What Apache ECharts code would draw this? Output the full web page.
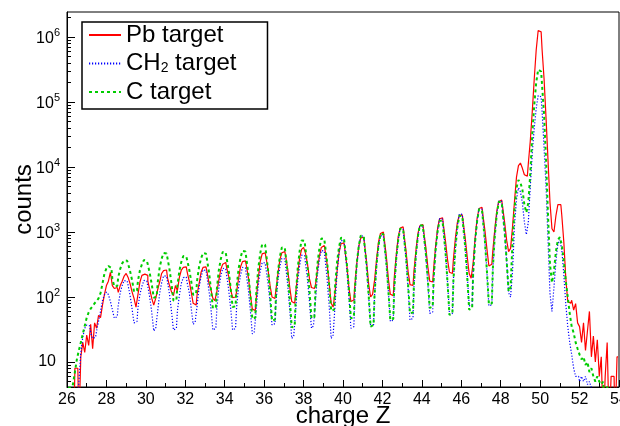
<!DOCTYPE html>
<html><head><meta charset="utf-8">
<script src="https://cdn.jsdelivr.net/npm/echarts/dist/echarts.min.js"></script>
<style>html,body{margin:0;padding:0;background:#fff}#c{width:620px;height:426px}</style>
</head><body><div id="c"></div>
<script>
// Histogram binning (bin lower edge of first bin and width), in charge Z
const binStart = 26;
const binWidth = 0.1;

// Axis tick values
const xRange = [26, 54];
const yRange = [4.12, 2.43e6];
const yMajorTicks = [10, 100, 1000, 10000, 100000, 1000000];
const yMinorTicks = [5,6,7,8,9, 20,30,40,50,60,70,80,90, 200,300,400,500,600,700,800,900,
  2000,3000,4000,5000,6000,7000,8000,9000, 20000,30000,40000,50000,60000,70000,80000,90000,
  200000,300000,400000,500000,600000,700000,800000,900000, 2000000];

const seriesNames = ['Pb target', 'CH2 target', 'C target'];

// Counts per bin (0.1 wide bins from Z=26.0 to 54.0); values of 1 lie below the axis (empty bins)
const pbCounts = [
  1,1,1,1,8,8,1,12,20,14,
  26,18,38,16,40,33,52,48,75,110,
  150,175,240,150,135,140,118,150,175,210,
  230,200,160,120,95,70,110,170,215,225,
  215,175,130,95,75,95,130,170,230,255,
  260,195,150,120,105,150,125,200,260,285,
  290,240,175,120,80,75,110,160,240,285,
  290,245,165,130,95,88,120,180,265,320,
  340,280,210,130,98,100,120,190,290,350,
  360,300,200,110,65,62,95,190,350,460,
  480,400,260,150,100,95,130,230,380,480,
  500,410,260,140,85,80,115,220,400,540,
  580,470,320,190,140,135,150,260,420,580,
  620,500,310,160,80,70,120,250,480,660,
  680,520,300,140,85,90,150,330,600,810,
  830,620,340,160,100,110,180,370,700,950,
  1000,750,420,190,110,105,200,440,850,1150,
  1200,900,500,250,155,150,250,520,950,1250,
  1300,1000,580,300,175,170,280,620,1150,1600,
  1650,1250,720,380,240,230,380,800,1400,1800,
  1830,1400,800,420,230,195,330,800,1600,2300,
  2400,1800,1050,550,300,320,520,1100,2100,2950,
  3100,2400,1400,750,500,560,1200,3000,7000,10500,
  11500,9550,7600,7240,11220,25120,70800,223900,631000,1258900,
  1202000,631000,223900,56200,12590,2820,1122,1000,1778,2630,
  2630,1778,708,200,85,80,89,63,79,40,
  35,20,40,15,30,60,12,25,10,22,
  6,12,1,6,20,1,6,6,1,12
];
const ch2Counts = [
  1,1,1,1,1,1,5,14,24,33,
  37,36,28,23,24,30,42,60,88,108,
  119,109,86,64,47,50,74,117,150,179,
  176,151,105,66,40,42,69,110,146,180,
  175,146,97,58,30,33,60,114,165,212,
  208,170,110,60,31,33,61,106,163,199,
  203,164,118,68,38,41,73,141,205,262,
  256,204,126,67,31,33,66,136,210,277,
  271,215,131,68,31,33,67,139,216,286,
  280,218,128,63,27,29,64,149,248,340,
  333,264,160,83,37,39,83,183,294,394,
  384,282,150,63,23,25,63,169,306,440,
  434,328,184,84,33,36,85,212,370,518,
  508,361,182,71,23,26,78,240,486,740,
  730,517,260,100,33,35,103,300,588,876,
  862,602,296,109,35,37,105,304,590,876,
  864,616,313,122,42,44,130,382,750,1120,
  1103,770,378,138,44,47,140,421,840,1265,
  1250,881,444,168,56,59,179,534,1066,1605,
  1577,1077,509,176,54,56,183,585,1225,1893,
  1870,1297,632,228,73,76,238,734,1500,2280,
  2250,1525,714,242,73,76,262,882,1910,3000,
  2970,2060,1008,363,116,100,251,1259,3162,4786,
  4169,2818,1413,912,1413,5012,15849,39811,79433,125893,
  120226,70795,19953,5012,708,112,60,141,355,661,
  759,525,224,79,35,20,13,8,6,6,
  5,6,5,6,4.5,5,4,1,1,1,
  1,1,1,1,1,1,1,1,1,1
];
const cCounts = [
  4,4,4,4.5,7,11,15,20,27,36,
  48,58,66,72,80,86,95,115,160,230,
  275,300,280,190,145,148,202,271,329,366,
  362,324,250,182,121,125,178,258,318,370,
  360,315,231,156,97,102,167,285,389,476,
  466,391,266,160,88,90,149,254,347,427,
  420,365,265,176,108,112,179,293,393,476,
  465,378,244,134,67,69,132,257,383,494,
  485,394,255,140,70,72,138,268,400,514,
  502,386,226,108,46,48,114,272,467,649,
  635,473,258,113,43,45,104,246,420,580,
  567,415,222,92,34,36,98,270,509,743,
  731,540,292,124,47,49,123,312,558,792,
  779,589,334,151,61,64,149,348,591,815,
  797,583,311,128,47,49,129,336,613,880,
  860,602,296,109,35,37,108,316,625,936,
  920,655,335,129,44,46,134,387,754,1123,
  1103,791,409,160,56,58,164,455,864,1272,
  1246,902,472,189,68,71,197,540,1023,1498,
  1464,1010,486,171,53,56,179,561,1157,1780,
  1748,1206,582,205,64,67,220,696,1447,2240,
  2196,1508,720,250,77,80,271,880,1869,2913,
  2868,2015,998,368,122,141,708,2239,4786,6310,
  5754,4467,2630,1995,2818,7943,31623,89125,199526,316228,
  295121,177828,63096,12589,1778,316,166,251,501,759,
  832,631,355,178,100,56,35,28,20,16,
  13,11,12,9,10,7,8,6,5,6,
  5,4.5,5,1,4.3,1,1,1,1,1
];

const FONT = "'Liberation Sans', Arial, Helvetica, sans-serif";
function toPairs(arr) {
  return arr.map((v, i) => [Math.round((binStart + binWidth * (i + 0.5)) * 1000) / 1000, v]);
}

const chart = echarts.init(document.getElementById('c'), null, {renderer: 'canvas'});
const option = {
  animation: false,
  backgroundColor: '#fff',
  textStyle: {fontFamily: FONT, color: '#000'},
  grid: {left: 67, top: 12, width: 552, height: 375, show: true, borderColor: '#000', borderWidth: 1,
         backgroundColor: 'transparent', containLabel: false, outerBoundsMode: 'none'},
  legend: {
    show: true, orient: 'vertical', left: 82, top: 22,
    padding: [1, 31, 5, 6], itemWidth: 32, itemHeight: 24, itemGap: 4.5,
    borderColor: '#000', borderWidth: 1.5, backgroundColor: '#fff',
    selectedMode: false, data: seriesNames,
    itemStyle: {opacity: 0},
    formatter: function (name) {
      if (name === 'CH2 target') return '{m|CH}{s|2}{m| target}';
      return '{m|' + name + '}';
    },
    textStyle: {
      fontSize: 24, color: '#000', fontFamily: FONT,
      rich: {
        m: {fontSize: 24, lineHeight: 24, verticalAlign: 'middle', fontFamily: FONT, color: '#000'},
        s: {fontSize: 14, lineHeight: 6, verticalAlign: 'bottom', fontFamily: FONT, color: '#000'}
      }
    }
  },
  xAxis: {
    type: 'value', min: xRange[0], max: xRange[1], interval: 2,
    axisLine: {show: true, onZero: false, lineStyle: {color: '#000', width: 1}},
    axisTick: {show: true, inside: true, length: 7, lineStyle: {color: '#000'}},
    minorTick: {show: true, splitNumber: 2, length: 4, lineStyle: {color: '#000'}},
    axisLabel: {fontSize: 16, color: '#000', margin: 5, showMinLabel: true, showMaxLabel: true, fontFamily: FONT},
    splitLine: {show: false},
    name: 'charge Z', nameLocation: 'middle', nameGap: 17, nameMoveOverlap: false,
    nameTextStyle: {fontSize: 24, color: '#000', fontFamily: FONT}
  },
  yAxis: [{
    type: 'log', logBase: 10, min: yRange[0], max: yRange[1],
    axisLine: {show: true, lineStyle: {color: '#000', width: 1}},
    axisTick: {show: true, inside: true, length: 8, customValues: yMajorTicks, lineStyle: {color: '#000'}},
    axisLabel: {
      show: true, margin: 7, customValues: yMajorTicks,
      formatter: function (v) {
        const e = Math.round(Math.log10(v));
        return e === 1 ? '{p|10}' : '{b|10}{sup|' + e + '}';
      },
      rich: {
        p: {fontSize: 16, lineHeight: 20, padding: [0, 4, 0, 0], fontFamily: FONT, color: '#000'},
        b: {fontSize: 16, lineHeight: 20, verticalAlign: 'bottom', fontFamily: FONT, color: '#000'},
        sup: {fontSize: 11, lineHeight: 11, verticalAlign: 'top', fontFamily: FONT, color: '#000'}
      }
    },
    splitLine: {show: false}, minorTick: {show: false},
    name: 'counts', nameLocation: 'middle', nameGap: 31, nameRotate: 90, nameMoveOverlap: false,
    nameTextStyle: {fontSize: 24, color: '#000', fontFamily: FONT}
  }, {
    type: 'log', logBase: 10, min: yRange[0], max: yRange[1], position: 'left',
    axisLine: {show: false},
    axisTick: {show: true, inside: true, length: 4, customValues: yMinorTicks, lineStyle: {color: '#000'}},
    axisLabel: {show: false},
    splitLine: {show: false}
  }],
  series: [
    {name: seriesNames[0], type: 'line', step: 'middle', symbol: 'none', showSymbol: false, clip: true,
     data: toPairs(pbCounts), lineStyle: {color: '#ff0000', width: 1.2}, itemStyle: {color: '#ff0000'}},
    {name: seriesNames[1], type: 'line', step: 'middle', symbol: 'none', showSymbol: false, clip: true,
     data: toPairs(ch2Counts), lineStyle: {color: '#0000ff', width: 1.2, type: [1.2, 1.8]}, itemStyle: {color: '#0000ff'}},
    {name: seriesNames[2], type: 'line', step: 'middle', symbol: 'none', showSymbol: false, clip: true,
     data: toPairs(cCounts), lineStyle: {color: '#00cc00', width: 2, type: [3, 3]}, itemStyle: {color: '#00cc00'}}
  ]
};
chart.setOption(option);
</script></body></html>
